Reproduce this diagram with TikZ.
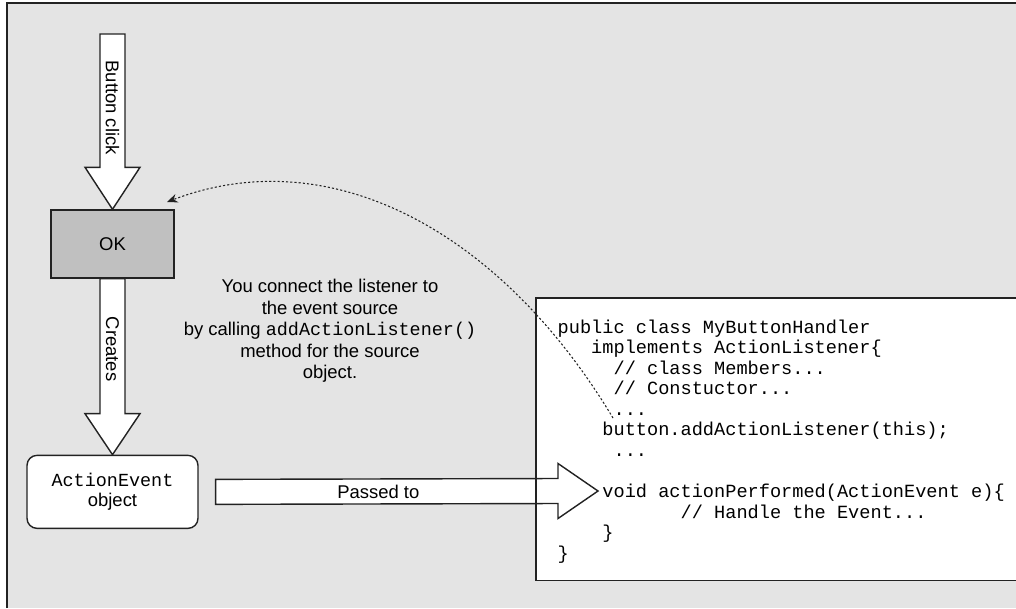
\documentclass[tikz,border=0pt]{standalone}
\usepackage{fontspec}
\setmainfont{Liberation Sans}
\setmonofont{Liberation Mono}
\usetikzlibrary{arrows.meta,positioning,calc}
\definecolor{PanelGrey}{RGB}{228,228,228}
\definecolor{ButtonGrey}{RGB}{192,192,192}
\definecolor{LineBlack}{RGB}{34,34,34}
\newcommand\cind[1]{\hspace*{#1\dimexpr0.6em\relax}}

\begin{document}
\begin{tikzpicture}[x=0.02cm, y=-0.02cm, line width=0.8pt,
  every node/.style={align=center, font=\fontsize{10.5}{12.2}\selectfont},
  fatarrow/.style={draw=LineBlack, fill=white, line join=miter}]
\useasboundingbox (0,0) rectangle (1016,608);
\fill[PanelGrey] (7,3) rectangle (1016,608);
\draw[LineBlack] (7,608) -- (7,3) -- (1016,3);

\node[draw=LineBlack, fill=ButtonGrey, minimum width=2.46cm, minimum height=1.36cm] (ok) at (112.5,244) {OK};
\node[draw=LineBlack, fill=white, rounded corners=0.2cm, minimum width=3.42cm, minimum height=1.46cm, below=3.52cm of ok, font=\fontsize{10.5}{11}\selectfont] (event) {\texttt{ActionEvent}\\object};
\node[fill=white, anchor=north west, minimum width=10cm, minimum height=5.62cm] (code) at (536,298) {};
\node[anchor=north west, inner sep=0pt, align=left, font=\ttfamily\fontsize{10.6}{11.7}\selectfont] (listing) at (557,319) {public class MyButtonHandler\\
  \cind{3}implements ActionListener\{\\
  \cind{5}// class Members...\\
  \cind{5}// Constuctor...\\
  \cind{5}...\\
  \cind{4}button.addActionListener(this);\\
  \cind{5}...\\
  \mbox{}\\
  \cind{4}void actionPerformed(ActionEvent e)\{\\
  \cind{11}// Handle the Event...\\
  \cind{4}\}\\
  \}};
\node (note) at (330,331) {You connect the listener to\\the event source\\by calling \texttt{addActionListener()}\\method for the source\\object.};

\coordinate (click) at (112.5,34);
\coordinate (perform) at (598,491);
\coordinate (hook) at (613,418);
\coordinate (okcorner) at (167,202);

% big arrows
\draw[fatarrow] ($(click)+(-12.5,0)$) -- ($(ok.north)+(-12.5,-42)$) -- ++(-15,0) -- (ok.north) -- ($(ok.north)+(27.5,-42)$) -- ++(-15,0) -- ($(click)+(12.5,0)$) -- cycle;
\path (click) -- (ok.north) node[pos=0.42, rotate=-90] {Button click};
\draw[fatarrow] ($(ok.south)+(-12.5,0)$) -- ($(event.north)+(-12.5,-41)$) -- ++(-15,0) -- (event.north) -- ($(event.north)+(27.5,-41)$) -- ++(-15,0) -- ($(ok.south)+(12.5,0)$) -- cycle;
\path (ok.south) -- (event.north) node[pos=0.4, rotate=-90] {Creates};
\draw[fatarrow] ($(event.east)+(17,-12.5)$) -- ($(perform)+(-40,-12.5)$) -- ++(0,-15) -- (perform) -- ($(perform)+(-40,27.5)$) -- ++(0,-15) -- ($(event.east)+(17,12.5)$) -- cycle;
\path (event.east) -- (perform) node[pos=0.45] {Passed to};
\draw[LineBlack] (code.south west) rectangle (code.north east);

% listener link
\draw[LineBlack, line width=0.6pt, dash pattern=on 1.2pt off 1.2pt, -{Stealth[length=6pt, width=5pt]}] (hook) .. controls (500,230) and (330,140) .. (okcorner);
\end{tikzpicture}
\end{document}
